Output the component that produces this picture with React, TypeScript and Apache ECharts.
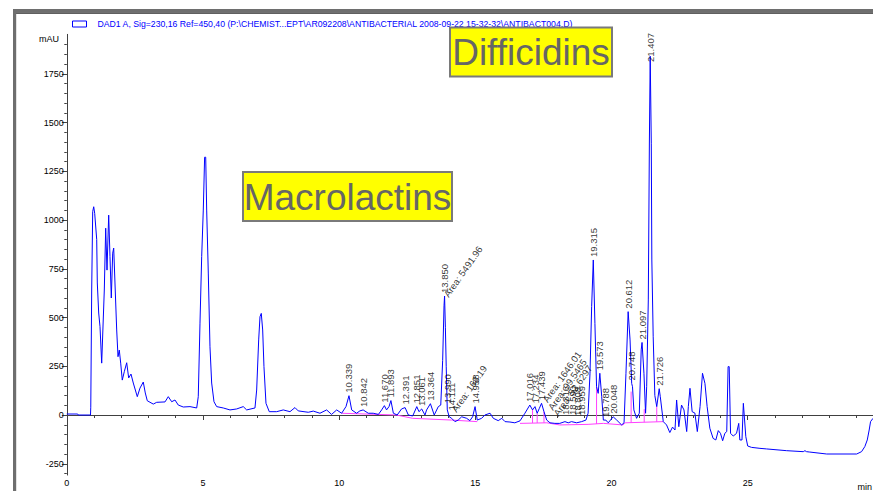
import React, { useEffect, useRef } from "react";
import * as echarts from "echarts";

const TITLE =
  "DAD1 A, Sig=230,16 Ref=450,40 (P:\\CHEMIST...EPT\\AR092208\\ANTIBACTERIAL 2008-09-22 15-32-32\\ANTIBACT004.D)";

// retention time (min), absorbance (mAU)
const chromatogram: [number, number][] = [
  [0, 5], [0.4, 5], [0.42, 0], [0.87, 0], [0.88, 40], [0.914, 641], [0.951, 1043], [0.988, 1068],
  [1.01, 1068], [1.024, 1034], [1.098, 900], [1.12, 677], [1.171, 523], [1.219, 453], [1.281, 266],
  [1.377, 641], [1.428, 958], [1.476, 743], [1.538, 1025], [1.586, 812], [1.634, 600], [1.685, 830],
  [1.722, 856], [1.769, 677], [1.832, 436], [1.88, 299], [1.927, 333], [1.979, 266], [2.037, 179],
  [2.111, 222], [2.199, 268], [2.272, 190], [2.357, 210], [2.441, 164], [2.588, 94], [2.687, 138],
  [2.808, 169], [2.882, 113], [2.955, 73], [3.175, 56], [3.3, 65], [3.605, 67], [3.726, 94],
  [3.851, 68], [3.972, 77], [4.093, 51], [4.277, 41], [4.523, 43], [4.769, 36], [4.827, 94],
  [4.89, 471], [4.952, 812], [5.011, 1051], [5.06, 1322], [5.1, 1322], [5.136, 1051], [5.195, 728],
  [5.257, 350], [5.319, 164], [5.404, 68], [5.503, 43], [5.745, 36], [5.991, 26], [6.237, 31],
  [6.479, 43], [6.604, 26], [6.909, 36], [6.971, 128], [7.045, 385], [7.093, 504], [7.14, 521],
  [7.192, 436], [7.239, 248], [7.313, 60], [7.434, 17], [7.705, 17], [7.948, 26], [8.194, 17],
  [8.377, 38], [8.498, 21], [8.866, 14], [9.05, 20], [9.295, 9], [9.54, 26], [9.72, 3], [9.91, 26],
  [10.09, 9], [10.25, 43], [10.36, 99], [10.46, 26], [10.64, 9], [10.76, 21], [10.88, 26], [11.07, 9],
  [11.25, 9], [11.44, 3], [11.56, 26], [11.66, 48], [11.74, 26], [11.83, 43], [11.9, 74], [11.99, 9],
  [12.13, 0], [12.29, 31], [12.42, 38], [12.54, 0], [12.7, -5], [12.85, 43], [12.93, 17], [13.03, 31],
  [13.15, 0], [13.21, 26], [13.35, 58], [13.49, 0], [13.64, 43], [13.73, 51], [13.8, 280], [13.85, 560],
  [13.87, 610], [13.9, 450], [13.93, 250], [13.97, 26], [14.04, -9], [14.13, -17], [14.25, -34],
  [14.37, -26], [14.5, -9], [14.68, -17], [14.8, -29], [14.9, -9], [14.99, 43], [15.07, -26],
  [15.23, -17], [15.35, 0], [15.54, 9], [15.66, -17], [15.84, -29], [15.97, -17], [16.09, -34],
  [16.27, -36], [16.45, -40], [16.64, -30], [16.82, 9], [17.0, 51], [17.1, 26], [17.19, 43],
  [17.27, 9], [17.35, 34], [17.43, 60], [17.52, 17], [17.62, -26], [17.74, -40], [17.92, -43],
  [18.1, -43], [18.29, -34], [18.41, -40], [18.53, -34], [18.72, -40], [18.9, -34], [19.06, -26],
  [19.14, 9], [19.21, 214], [19.27, 556], [19.33, 795], [19.39, 470], [19.45, 145], [19.51, 111],
  [19.57, 214], [19.64, 94], [19.7, -26], [19.79, -26], [19.88, -40], [20.06, -9], [20.19, -26],
  [20.37, -51], [20.46, -40], [20.53, 214], [20.61, 530], [20.68, 385], [20.74, 162], [20.77, 145],
  [20.82, 26], [20.92, -17], [21.02, 9], [21.09, 334], [21.12, 372], [21.19, 214], [21.25, 9],
  [21.29, 145], [21.35, 590], [21.39, 1400], [21.42, 1840], [21.46, 1394], [21.48, 795], [21.53, 401],
  [21.59, 100], [21.66, 43], [21.75, 135], [21.79, 94], [21.9, -34], [22.02, -51], [22.14, -90],
  [22.24, -62], [22.33, -77], [22.39, 77], [22.47, -60], [22.57, 51], [22.66, 26], [22.76, -85],
  [22.82, 43], [22.88, 137], [22.96, 17], [23.06, 10], [23.15, -85], [23.25, 43], [23.34, 214],
  [23.43, 162], [23.51, 43], [23.61, -68], [23.73, -120], [23.83, -128], [23.92, -80], [24.0, -94],
  [24.08, -132], [24.16, -94], [24.23, -85], [24.28, 248], [24.32, 248], [24.37, -94], [24.47, -108],
  [24.59, -94], [24.67, -43], [24.71, -128], [24.79, -128], [24.84, 60], [24.93, -111], [25.0, -159],
  [25.14, -166], [25.45, -171], [25.69, -174], [26.43, -183], [27.04, -188], [27.1, -183], [27.16, -188],
  [27.28, -190], [27.9, -200], [29.0, -200], [29.18, -188], [29.3, -162], [29.39, -128], [29.46, -77],
  [29.51, -34], [29.6, -17],
];

// integration baselines
const baselineA: [number, number][] = [
  [10.09, 9], [12.1, 0], [12.7, -17], [14.13, -26], [15.07, -34],
];
const baselineB: [number, number][] = [
  [16.64, -43], [17.62, -40], [18.1, -51], [19.14, -48], [19.7, -43], [20.42, -51], [20.5, -40], [21.9, -34],
];
const dropTimes = [17.1, 17.27, 17.52, 19.45, 20.72, 21.2, 21.66];
const dropBottoms = [-41, -41, -40, -46, -40, -37, -35];
const dropTops = [26, 9, 17, 145, 120, 30, 43];

// peak retention time labels
const peakLabels = [
  "10.339", "10.842", "11.670", "11.893", "12.391", "12.851", "13.061", "13.364", "13.850", "13.990",
  "14.111", "14.958", "17.016", "17.234", "17.439", "18.316", "18.590", "18.808", "18.959", "19.315",
  "19.573", "19.788", "20.048", "20.612", "20.748", "21.097", "21.407", "21.726",
];
const peakTimes = [
  10.36, 10.88, 11.66, 11.9, 12.42, 12.85, 13.04, 13.35, 13.87, 13.99,
  14.12, 14.99, 17.0, 17.2, 17.43, 18.32, 18.55, 18.75, 18.9, 19.33,
  19.57, 19.79, 20.06, 20.61, 20.74, 21.12, 21.42, 21.75,
];
const peakValues = [
  99, 26, 48, 74, 38, 43, 31, 58, 610, 45,
  8, 43, 51, 43, 60, -15, -15, -20, -15, 795,
  214, -26, -9, 530, 162, 372, 1795, 135,
];

const areaLabels = ["Area: 5491.96", "Area: 168.19", "Area: 1646.01", "Area: 99.5465", "Area: 53.6297"];
const areaTimes = [13.92, 14.2, 17.55, 17.75, 17.95];
const areaValues = [600, 10, 60, 20, -10];

const xLabelValues = [0, 5, 10, 15, 20, 25];
const xMinorValues = Array.from({ length: 30 }, (_, i) => i);
const yLabelValues = [-250, 0, 250, 500, 750, 1000, 1250, 1500, 1750];
const yMinorValues = Array.from({ length: 45 }, (_, i) => -300 + i * 50);

const FONT = "'Liberation Sans', Arial, sans-serif";

export default function App() {
  const ref = useRef<HTMLDivElement>(null);
  useEffect(() => {
    if (!ref.current) return;
    const chart = echarts.init(ref.current, undefined, { renderer: "svg" });
    const axisColor = "#404040";
    const dropSeries = dropTimes.map((t, i) => ({
      type: "line",
      data: [[t, dropBottoms[i]], [t, dropTops[i]]],
      showSymbol: false,
      silent: true,
      lineStyle: { color: "#ff40ff", width: 1 },
      z: 2,
    }));
    chart.setOption({
      animation: false,
      backgroundColor: "#ffffff",
      textStyle: { fontFamily: FONT },
      grid: { left: 66.8, right: 0, top: 34.36, bottom: 15.94, containLabel: false },
      legend: {
        show: true,
        left: 67,
        top: 14.5,
        selectedMode: false,
        itemWidth: 14,
        itemHeight: 6,
        data: [
          {
            name: TITLE,
            icon: "rect",
            itemStyle: { color: "#ffffff", borderColor: "#0000ff", borderWidth: 1 },
          },
        ],
        textStyle: { color: "#0000ff", fontSize: 8.7, fontFamily: FONT, padding: [0, 0, 0, 6] },
      },
      xAxis: [
        {
          type: "value",
          min: 0,
          max: 29.6,
          interval: 5,
          splitLine: { show: false },
          axisLine: { show: true, lineStyle: { color: axisColor, width: 1 } },
          axisTick: { show: true, length: 5, customValues: xLabelValues, lineStyle: { color: axisColor } },
          axisLabel: {
            customValues: xLabelValues,
            formatter: (v: number) => String(v),
            fontSize: 9,
            color: "#000",
            margin: 3,
            fontFamily: FONT,
          },
        },
        {
          type: "value",
          min: 0,
          max: 29.6,
          position: "bottom",
          splitLine: { show: false },
          axisLine: { show: false },
          axisTick: { show: true, length: 3, customValues: xMinorValues, lineStyle: { color: axisColor } },
          axisLabel: { show: false },
        },
      ],
      yAxis: [
        {
          type: "value",
          min: -308,
          max: 1952,
          splitLine: { show: false },
          axisLine: { show: true, lineStyle: { color: axisColor, width: 1 } },
          axisTick: { show: true, length: 5, customValues: yLabelValues, lineStyle: { color: axisColor } },
          axisLabel: {
            customValues: yLabelValues,
            formatter: (v: number) => String(v),
            fontSize: 9,
            color: "#000",
            margin: 3,
            fontFamily: FONT,
          },
        },
        {
          type: "value",
          min: -308,
          max: 1952,
          position: "left",
          splitLine: { show: false },
          axisLine: { show: false },
          axisTick: { show: true, length: 2.5, customValues: yMinorValues, lineStyle: { color: axisColor } },
          axisLabel: { show: false },
        },
      ],
      series: [
        {
          name: TITLE,
          type: "line",
          data: chromatogram,
          showSymbol: false,
          silent: true,
          lineStyle: { color: "#0000ff", width: 1 },
          itemStyle: { color: "#0000ff" },
          z: 3,
        },
        {
          type: "line",
          data: baselineA,
          showSymbol: false,
          silent: true,
          lineStyle: { color: "#ff40ff", width: 1 },
          z: 2,
        },
        {
          type: "line",
          data: baselineB,
          showSymbol: false,
          silent: true,
          lineStyle: { color: "#ff40ff", width: 1 },
          z: 2,
        },
        ...dropSeries,
        {
          type: "scatter",
          symbolSize: 0,
          silent: true,
          z: 4,
          data: peakTimes.map((t, i) => ({ value: [t, peakValues[i]], name: peakLabels[i] })),
          label: {
            show: true,
            formatter: (p: any) => p.name,
            position: "top",
            distance: 3,
            rotate: 90,
            align: "left",
            verticalAlign: "middle",
            fontSize: 9.5,
            color: "#000",
            fontFamily: FONT,
          },
        },
        {
          type: "scatter",
          symbolSize: 0,
          silent: true,
          z: 4,
          data: areaTimes.map((t, i) => ({ value: [t, areaValues[i]], name: areaLabels[i] })),
          label: {
            show: true,
            formatter: (p: any) => p.name,
            position: "top",
            distance: 2,
            rotate: 55,
            align: "left",
            verticalAlign: "middle",
            fontSize: 9.5,
            color: "#000",
            fontFamily: FONT,
          },
        },
      ],
      graphic: [
        { type: "rect", shape: { x: 13, y: 9, width: 860, height: 3.5 }, style: { fill: "#6e6e6e" }, silent: true },
        { type: "rect", shape: { x: 13, y: 12.5, width: 860, height: 1.2 }, style: { fill: "#2a2a2a" }, silent: true },
        { type: "rect", shape: { x: 13, y: 9, width: 3.2, height: 482 }, style: { fill: "#6e6e6e" }, silent: true },
        {
          type: "text",
          x: 59,
          y: 39,
          style: { text: "mAU", fontSize: 9, fill: "#000", align: "right", verticalAlign: "middle", fontFamily: FONT },
          silent: true,
        },
        {
          type: "text",
          x: 872,
          y: 487,
          style: { text: "min", fontSize: 9, fill: "#000", align: "right", verticalAlign: "middle", fontFamily: FONT },
          silent: true,
        },
        {
          type: "rect",
          shape: { x: 243, y: 172, width: 209, height: 49 },
          style: { fill: "#ffff00", stroke: "#7a7a7a", lineWidth: 2 },
          silent: true,
          z: 10,
        },
        {
          type: "text",
          x: 347.5,
          y: 197,
          style: {
            text: "Macrolactins",
            fontSize: 37,
            fill: "#666666",
            align: "center",
            verticalAlign: "middle",
            fontFamily: FONT,
          },
          silent: true,
          z: 11,
        },
        {
          type: "rect",
          shape: { x: 450, y: 27.5, width: 162, height: 49 },
          style: { fill: "#ffff00", stroke: "#7a7a7a", lineWidth: 2 },
          silent: true,
          z: 10,
        },
        {
          type: "text",
          x: 531,
          y: 52.5,
          style: {
            text: "Difficidins",
            fontSize: 37,
            fill: "#666666",
            align: "center",
            verticalAlign: "middle",
            fontFamily: FONT,
          },
          silent: true,
          z: 11,
        },
      ],
    });
    return () => chart.dispose();
  }, []);
  return (
    <div
      ref={ref}
      style={{ position: "fixed", left: 0, top: 0, width: 873, height: 491, overflow: "hidden", background: "#fff" }}
    />
  );
}
